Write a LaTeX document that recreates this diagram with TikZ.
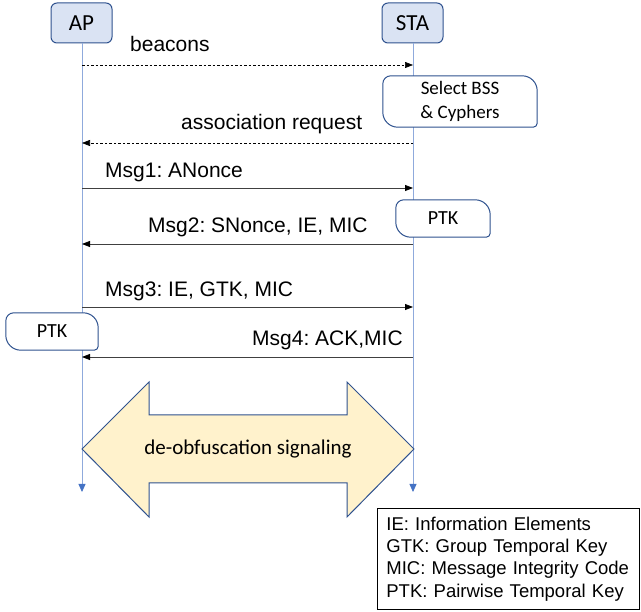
\documentclass[tikz,border=0pt]{standalone}
\usepackage{fontspec}
\setmainfont{Liberation Sans}
\newfontfamily\calfont{Carlito}
\usetikzlibrary{arrows.meta}
\frenchspacing
\definecolor{boxfill}{HTML}{DAE3F3}
\definecolor{boxline}{HTML}{2F528F}
\definecolor{lifeline}{HTML}{8FAADC}
\definecolor{lifetip}{HTML}{4472C4}
\definecolor{msgline}{HTML}{404040}
\definecolor{arrfill}{HTML}{FFF2CC}
\tikzset{
  party/.style={draw=boxline, fill=boxfill, line width=1pt, rounded corners=6pt,
    minimum width=61pt, minimum height=40pt, inner sep=0pt,
    font=\calfont\fontsize{23}{27}\selectfont},
  life/.style={draw=lifeline, line width=0.8pt, -{Triangle[length=8pt,width=7pt,fill=lifetip,color=lifetip]}},
  msg/.style={draw=msgline, line width=0.8pt, -{Triangle[length=8pt,width=6pt,fill=black,color=black]}},
  dmsg/.style={msg, draw=black, line width=0.6pt, dash pattern=on 2.5pt off 2pt},
  lbl/.style={anchor=base west, inner sep=0pt, font=\fontsize{21}{25}\selectfont},
  notetext/.style={inner sep=0pt, align=center, font=\calfont\fontsize{19}{24}\selectfont},
  noteshape/.style={draw=boxline, fill=white, line width=1pt},
}
\newcommand{\notebox}[1]{%
  \path[noteshape] (#1.west) [rounded corners=8pt] -- (#1.north west)
    [rounded corners=15pt] -- (#1.north east)
    [rounded corners=4pt] -- (#1.south east)
    [rounded corners=15pt] -- (#1.south west)
    [sharp corners] -- cycle;}
\begin{document}
\begin{tikzpicture}[x=1pt,y=-1pt]
\useasboundingbox (0,0) rectangle (641,612);
% parties
\node[party] (ap) at (81.5,23) {AP};
\node[party] (sta) at (412.5,23) {STA};
\coordinate (apend) at (82,492);
\coordinate (staend) at (413,492);
\draw[life] (ap.south -| apend) -- (apend);
\draw[life] (sta.south -| staend) -- (staend);
% message rows
\foreach \n/\y in {m0/65,m1/143,m2/188,m3/244,m4/307,m5/357}{
  \coordinate (a\n) at (82,\y);
  \coordinate (s\n) at (413,\y);
}
% notes
\node[notetext, minimum width=154pt, minimum height=51pt] (sel) at (460,101.5) {};
\notebox{sel}
\node[notetext] at (sel.center) {Select BSS\\\& Cyphers};
\node[notetext, minimum width=94pt, minimum height=37pt] (ptks) at (443,218.5) {};
\notebox{ptks}
\node[notetext, font=\calfont\fontsize{20}{24}\selectfont] at (ptks.center) {PTK};
\node[notetext, minimum width=92pt, minimum height=37pt] (ptka) at (52,331.5) {};
\notebox{ptka}
\node[notetext, font=\calfont\fontsize{20}{24}\selectfont] at (ptka.center) {PTK};
% arrows
\draw[dmsg] (am0) -- (sm0);
\node[lbl] (l0) at (130,52) {beacons};
\draw[dmsg] (sm1) -- (am1);
\node[lbl] (l1) at (181,130) {association request};
\draw[msg] (am2) -- (sm2);
\node[lbl] (l2) at (105,178) {Msg1: ANonce};
\draw[msg] (sm3) -- (am3);
\node[lbl] (l3) at (148,233) {Msg2: SNonce, IE, MIC};
\draw[msg] (am4) -- (sm4);
\node[lbl] (l4) at (105,297) {Msg3: IE, GTK, MIC};
\draw[msg] (sm5) -- (am5);
\node[lbl] (l5) at (252,346) {Msg4: ACK,MIC};
% double arrow
\draw[draw=boxline, fill=arrfill, line width=1pt, line join=miter]
  (82,449) -- (149,382) -- (149,415) -- (347,415) -- (347,382) -- (414,449)
  -- (347,517) -- (347,483) -- (149,483) -- (149,517) -- cycle;
\node[inner sep=0pt, font=\calfont\fontsize{21}{25}\selectfont] (deob) at (248,449) {de-obfuscation signaling};
% legend
\node[draw=black, line width=0.8pt, anchor=north west, minimum width=262pt, minimum height=101pt,
  inner xsep=9pt, inner ysep=0pt, text width=244pt, align=left, font=\fontsize{18.5}{22.3}\selectfont] (leg) at (377,508)
  {IE: Information Elements\\GTK: Group Temporal Key\\MIC: Message Integrity Code\\PTK: Pairwise Temporal Key};
\end{tikzpicture}
\end{document}
